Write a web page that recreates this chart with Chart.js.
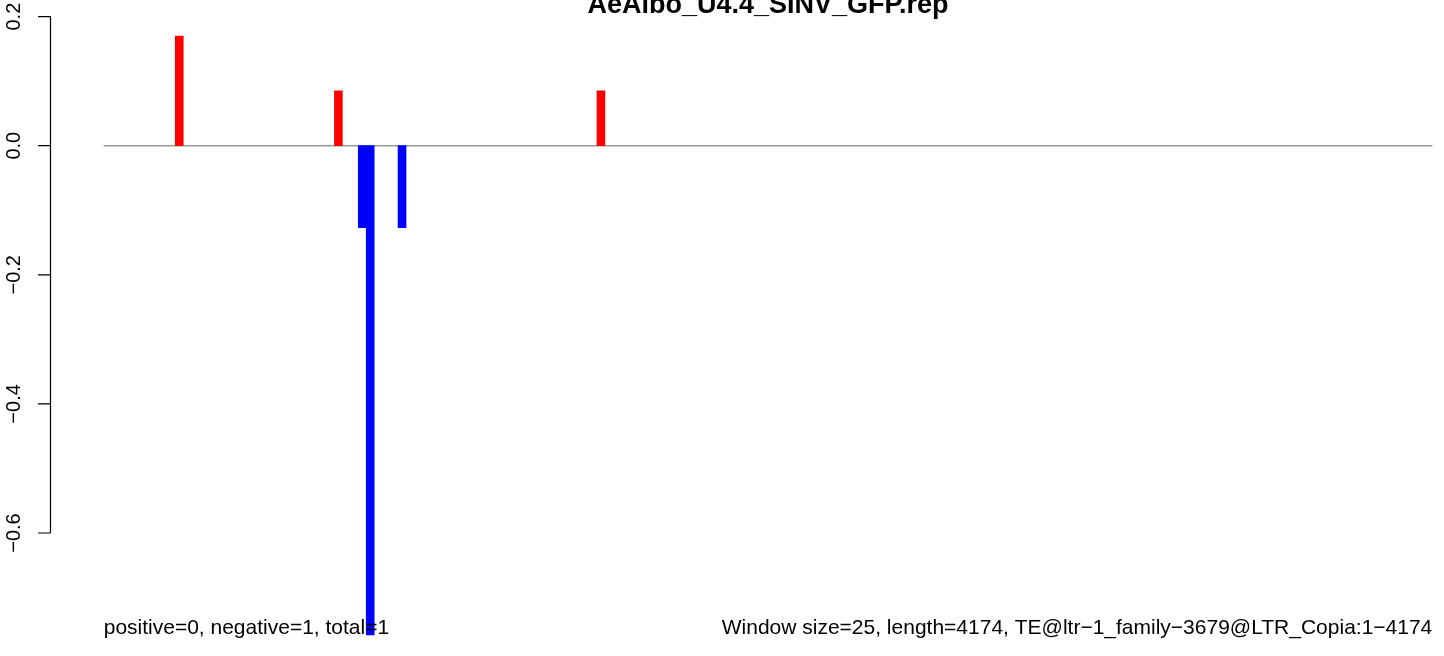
<!DOCTYPE html>
<html>
<head>
<meta charset="utf-8">
<style>
  html, body { margin: 0; padding: 0; background: #ffffff; }
  #wrap { width: 1444px; height: 656px; }
</style>
<script src="https://cdn.jsdelivr.net/npm/chart.js@4.4.1/dist/chart.umd.min.js"></script>
</head>
<body>
<div id="wrap"><canvas id="c" width="1444" height="656"></canvas></div>
<script>
// ---- data ----
const titleText = "AeAlbo_U4.4_SINV_GFP.rep";
const leftNote = "positive=0, negative=1, total=1";
const rightNote = "Window size=25, length=4174, TE@ltr\u22121_family\u22123679@LTR_Copia:1\u22124174";
const windowCount = 167;                 // 4174 / 25 windows
const positiveWindows = [9, 29, 62];
const positiveValues = [0.17, 0.085, 0.085];
const negativeWindows = [32, 33, 37];
const negativeValues = [-0.127, -0.758, -0.127];
const yTickValues = [0.2, 0.0, -0.2, -0.4, -0.6];
const yTickLabels = ["0.2", "0.0", "\u22120.2", "\u22120.4", "\u22120.6"];

const windowLabels = Array.from({length: windowCount}, (_, i) => String(i));
const posData = positiveWindows.map((w, i) => ({x: String(w), y: positiveValues[i]}));
const negData = negativeWindows.map((w, i) => ({x: String(w), y: negativeValues[i]}));

const FONT = "'Liberation Sans', Arial, Helvetica, sans-serif";

const decorations = {
  id: 'decorations',
  beforeDatasetsDraw(chart) {
    const {ctx, chartArea, scales} = chart;
    const y0 = scales.y.getPixelForValue(0);
    ctx.save();
    ctx.strokeStyle = '#999999';
    ctx.lineWidth = 1.5;
    ctx.beginPath();
    ctx.moveTo(chartArea.left, y0);
    ctx.lineTo(chartArea.right, y0);
    ctx.stroke();
    ctx.restore();
  },
  afterDraw(chart) {
    const {ctx, chartArea, scales} = chart;
    const ys = scales.y;
    ctx.save();
    // y axis
    ctx.strokeStyle = '#000000';
    ctx.lineWidth = 1.2;
    const ax = 50.5;
    const top = ys.getPixelForValue(yTickValues[0]);
    const bot = ys.getPixelForValue(yTickValues[yTickValues.length - 1]);
    ctx.beginPath();
    ctx.moveTo(ax, top);
    ctx.lineTo(ax, bot);
    yTickValues.forEach(v => {
      const py = ys.getPixelForValue(v);
      ctx.moveTo(ax, py);
      ctx.lineTo(38, py);
    });
    ctx.stroke();
    ctx.fillStyle = '#000000';
    ctx.font = '20px ' + FONT;
    ctx.textAlign = 'center';
    ctx.textBaseline = 'alphabetic';
    yTickValues.forEach((v, i) => {
      const py = ys.getPixelForValue(v);
      ctx.save();
      ctx.translate(20, py);
      ctx.rotate(-Math.PI / 2);
      ctx.fillText(yTickLabels[i], 0, 0);
      ctx.restore();
    });
    // title
    ctx.font = 'bold 27px ' + FONT;
    ctx.textAlign = 'center';
    ctx.fillText(titleText, (chartArea.left + chartArea.right) / 2, 13);
    // bottom notes
    ctx.font = '21px ' + FONT;
    ctx.textAlign = 'left';
    ctx.fillText(leftNote, chartArea.left, 634);
    ctx.textAlign = 'right';
    ctx.fillText(rightNote, chartArea.right, 634);
    ctx.restore();
  }
};

new Chart(document.getElementById('c'), {
  type: 'bar',
  data: {
    labels: windowLabels,
    datasets: [
      {data: posData, backgroundColor: '#ff0000', borderWidth: 0, grouped: false,
       barPercentage: 1, categoryPercentage: 1},
      {data: negData, backgroundColor: '#0000ff', borderWidth: 0, grouped: false,
       barPercentage: 1, categoryPercentage: 1}
    ]
  },
  options: {
    responsive: false,
    animation: false,
    layout: {padding: {left: 103.7, right: 11.7, top: 16.6, bottom: 19.7}},
    plugins: {legend: {display: false}, tooltip: {enabled: false}, title: {display: false}},
    scales: {
      x: {type: 'category', display: false, offset: true, grid: {display: false}},
      y: {type: 'linear', display: false, min: -0.76, max: 0.2, grid: {display: false}}
    }
  },
  plugins: [decorations]
});
</script>
</body>
</html>
